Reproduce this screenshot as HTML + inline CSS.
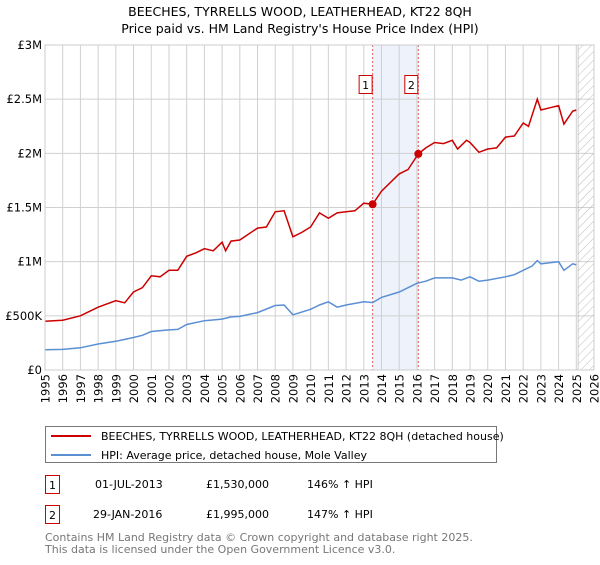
<!DOCTYPE html>
<html><head><meta charset="utf-8"><style>
body{margin:0;background:#fff;font-family:"Liberation Sans","DejaVu Sans",sans-serif;}
svg text{font-family:"DejaVu Sans","Liberation Sans",sans-serif;}
</style></head><body>
<svg id="chart" width="600" height="560" xmlns="http://www.w3.org/2000/svg">
<defs><pattern id="hatch" width="6" height="6" patternUnits="userSpaceOnUse" patternTransform="rotate(45)"><line x1="0" y1="0" x2="0" y2="6" stroke="#bbb" stroke-width="1"/></pattern></defs>
<text x="300" y="16" text-anchor="middle" font-size="12.5" fill="#000">BEECHES, TYRRELLS WOOD, LEATHERHEAD, KT22 8QH</text>
<text x="300" y="33" text-anchor="middle" font-size="12.5" fill="#000">Price paid vs. HM Land Registry's House Price Index (HPI)</text>
<g id="grid"></g><g id="marks"></g><g id="axes"></g>
<rect x="45.5" y="426.5" width="451" height="36" fill="#fff" stroke="#777"/>
<line x1="51" y1="436" x2="91" y2="436" stroke="#cc0000" stroke-width="2"/>
<text x="101" y="440" font-size="11">BEECHES, TYRRELLS WOOD, LEATHERHEAD, KT22 8QH (detached house)</text>
<line x1="51" y1="455" x2="91" y2="455" stroke="#5b8fd4" stroke-width="2"/>
<text x="101" y="459" font-size="11">HPI: Average price, detached house, Mole Valley</text>
<g font-size="11">
<rect x="45.5" y="475.5" width="14" height="18" fill="#fff" stroke="#cc0000"/><text x="52.5" y="489" text-anchor="middle">1</text>
<text x="95" y="488">01-JUL-2013</text><text x="206" y="488">£1,530,000</text><text x="307" y="488">146% ↑ HPI</text></g>
<g font-size="11">
<rect x="45.5" y="505.5" width="14" height="18" fill="#fff" stroke="#cc0000"/><text x="52.5" y="519" text-anchor="middle">2</text>
<text x="93" y="518">29-JAN-2016</text><text x="206" y="518">£1,995,000</text><text x="307" y="518">147% ↑ HPI</text></g>
<text x="45" y="541" font-size="11" fill="#777">Contains HM Land Registry data © Crown copyright and database right 2025.</text>
<text x="45" y="553" font-size="11" fill="#777">This data is licensed under the Open Government Licence v3.0.</text>
</svg>
<script>
const hpiYears=[1995,1996,1997,1998,1999,2000,2000.5,2001,2002,2002.5,2003,2004,2005,2005.5,2006,2007,2008,2008.5,2009,2010,2010.5,2011,2011.5,2012,2013,2013.5,2014,2015,2016,2016.5,2017,2018,2018.5,2019,2019.5,2020,2021,2021.5,2022,2022.5,2022.8,2023,2023.5,2024,2024.3,2024.8,2025];
const hpiValues=[187,190,205,240,265,300,320,355,370,375,420,455,470,490,495,530,595,600,510,560,600,630,580,600,630,622,670,720,800,820,850,850,830,860,820,830,860,880,920,960,1010,980,990,1000,920,980,970];
const priceYears=[1995,1996,1997,1998,1999,1999.5,2000,2000.5,2001,2001.5,2002,2002.5,2003,2003.5,2004,2004.5,2005,2005.2,2005.5,2006,2007,2007.5,2008,2008.5,2009,2009.5,2010,2010.5,2011,2011.5,2012,2012.5,2013,2013.5,2014,2015,2015.5,2016.08,2016.5,2017,2017.5,2018,2018.3,2018.8,2019,2019.5,2020,2020.5,2021,2021.5,2022,2022.3,2022.8,2023,2023.5,2024,2024.3,2024.8,2025];
const priceValues=[450,460,500,580,640,620,720,760,870,860,920,920,1050,1080,1120,1100,1180,1100,1190,1200,1310,1320,1460,1470,1230,1270,1320,1450,1400,1450,1460,1470,1540,1530,1650,1810,1850,1995,2050,2100,2090,2120,2040,2120,2100,2010,2040,2050,2150,2160,2280,2250,2500,2400,2420,2440,2270,2390,2400];
const saleYears=[2013.5,2016.08];
const saleValues=[1530,1995];
const saleLabels=["1","2"];
const yTickValues=[0,500,1000,1500,2000,2500,3000];
const yTickLabels=["£0","£500K","£1M","£1.5M","£2M","£2.5M","£3M"];
const xTicks=[1995,1996,1997,1998,1999,2000,2001,2002,2003,2004,2005,2006,2007,2008,2009,2010,2011,2012,2013,2014,2015,2016,2017,2018,2019,2020,2021,2022,2023,2024,2025,2026];
const X0=45,X1=594,Y0=370,Y1=45;
const sx=y=>X0+(y-1995)/(2026-1995)*(X1-X0);
const sy=v=>Y0-v/3000*(Y0-Y1);
const NS="http://www.w3.org/2000/svg";
function mk(parent,tag,attrs){const e=document.createElementNS(NS,tag);for(const k in attrs)e.setAttribute(k,attrs[k]);document.getElementById(parent).appendChild(e);return e;}
let r=mk('grid','rect',{x:sx(saleYears[0]),y:Y1,width:sx(saleYears[1])-sx(saleYears[0]),height:Y0-Y1,fill:'#eef2fb'});


xTicks.forEach(t=>{const l=mk('grid','line',{x1:sx(t),x2:sx(t),y1:Y1,y2:Y0,stroke:'#d0d0d0'});


const px=sx(t)+4.5,py=Y0+4;
const tx=mk('axes','text',{x:px,y:py,'text-anchor':'end','font-size':'11.5',transform:'rotate(-90 '+px+' '+py+')'});tx.textContent=t;

});
yTickValues.forEach((v,i)=>{const l=mk('grid','line',{x1:X0,x2:X1,y1:sy(v),y2:sy(v),stroke:'#d0d0d0'});


const tx=mk('axes','text',{x:X0-3,y:sy(v)+4,'text-anchor':'end','font-size':'11.5'});tx.textContent=yTickLabels[i];

});
const h=mk('grid','rect',{x:sx(2025.1),y:Y1,width:X1-sx(2025.1),height:Y0-Y1,fill:'url(#hatch)',stroke:'#999','stroke-width':0.5});


saleYears.forEach((y,i)=>{const l=mk('grid','line',{x1:sx(y),x2:sx(y),y1:Y1,y2:Y0,stroke:'#e06060','stroke-dasharray':'2,2'});

});
function path(xs,vs,col,name){const d=xs.map((x,i)=>(i?'L':'M')+sx(x).toFixed(1)+','+sy(vs[i]).toFixed(1)).join('');
const p=mk('marks','path',{d:d,fill:'none',stroke:col,'stroke-width':1.5});

}
path(hpiYears,hpiValues,'#5b8fd4','hpi-line');
path(priceYears,priceValues,'#cc0000','price-line');
saleYears.forEach((y,i)=>{const c=mk('marks','circle',{cx:sx(y),cy:sy(saleValues[i]),r:4,fill:'#cc0000'});


const b=mk('marks','rect',{x:sx(y)-13.5,y:75.5,width:13,height:18,fill:'#fff',stroke:'#cc0000'});


const t=mk('marks','text',{x:sx(y)-7,y:89,'text-anchor':'middle','font-size':'11'});t.textContent=saleLabels[i];

});
const fr=mk('axes','rect',{x:X0,y:Y1,width:X1-X0,height:Y0-Y1,fill:'none',stroke:'#ccc'});


</script>
</body></html>
